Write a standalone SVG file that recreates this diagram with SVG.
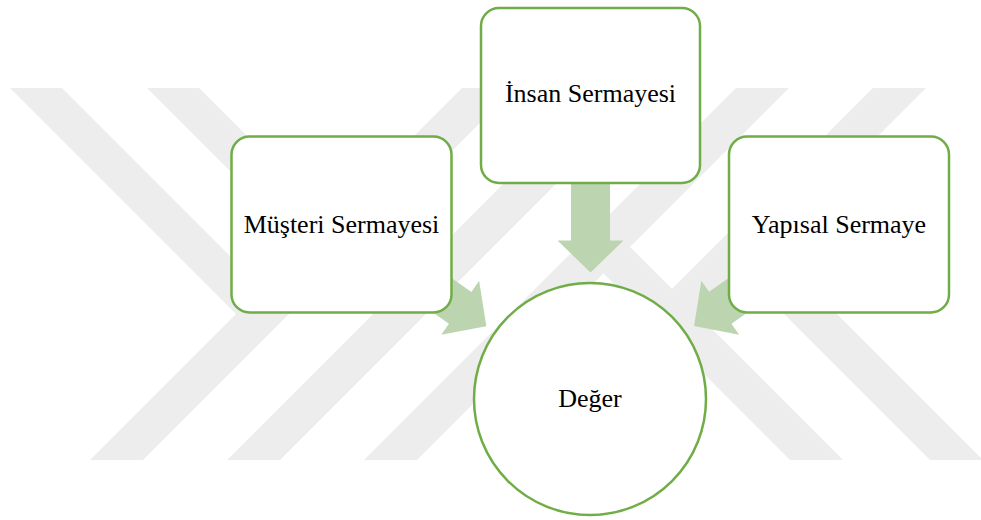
<svg xmlns="http://www.w3.org/2000/svg" xmlns:xlink="http://www.w3.org/1999/xlink" width="981" height="520" viewBox="0 0 981 520">
  <style>
    .wm { fill: #ededed; }
    .node { fill: #ffffff; stroke: #70ad47; stroke-width: 2.5; }
    .arrow { fill: #bcd5b0; }
    .label { font-family: "Liberation Serif", "Times New Roman", serif; font-size: 26px; fill: #000000; text-anchor: middle; }
  </style>
  <defs>
    <path id="blockArrow" d="M0,-19.5 L145,-19.5 L145,-33 L177,0 L145,33 L145,19.5 L0,19.5 Z"/>
  </defs>
  <rect x="0" y="0" width="981" height="520" fill="#ffffff"/>
  <g id="watermark">
    <polygon class="wm" points="90,460 143,460 515,88 462,88"/>
    <polygon class="wm" points="227,460 280,460 652,88 599,88"/>
    <polygon class="wm" points="364,460 417,460 789,88 736,88"/>
    <polygon class="wm" points="501,460 554,460 926,88 873,88"/>
    <polygon class="wm" points="10,88 62,88 288.5,314.5 236,314"/>
    <polygon class="wm" points="147,88 199,88 425.5,314.5 373,314"/>
    <polygon class="wm" points="930,460 983,460 768.5,245.5 715.5,245.5"/>
    <polygon class="wm" points="790,460 843,460 630,247 577,247"/>
  </g>
  <g id="connectors">
    <use xlink:href="#blockArrow" href="#blockArrow" class="arrow" transform="translate(590.5,95.5) rotate(90)"/>
    <use xlink:href="#blockArrow" href="#blockArrow" class="arrow" transform="translate(341.5,224.5) rotate(35.08)"/>
    <use xlink:href="#blockArrow" href="#blockArrow" class="arrow" transform="translate(839,224.5) rotate(144.97)"/>
  </g>
  <g id="node-insan">
    <rect class="node" x="481" y="8" width="219" height="175" rx="18" ry="18"/>
    <text class="label" x="590.5" y="102">İnsan Sermayesi</text>
  </g>
  <g id="node-musteri">
    <rect class="node" x="231.5" y="136.5" width="220" height="176" rx="18" ry="18"/>
    <text class="label" x="341.5" y="233">Müşteri Sermayesi</text>
  </g>
  <g id="node-yapisal">
    <rect class="node" x="729" y="136.5" width="220" height="176" rx="18" ry="18"/>
    <text class="label" x="839" y="233">Yapısal Sermaye</text>
  </g>
  <g id="node-deger">
    <circle class="node" cx="590" cy="399" r="116"/>
    <text class="label" x="590" y="407">Değer</text>
  </g>
</svg>
